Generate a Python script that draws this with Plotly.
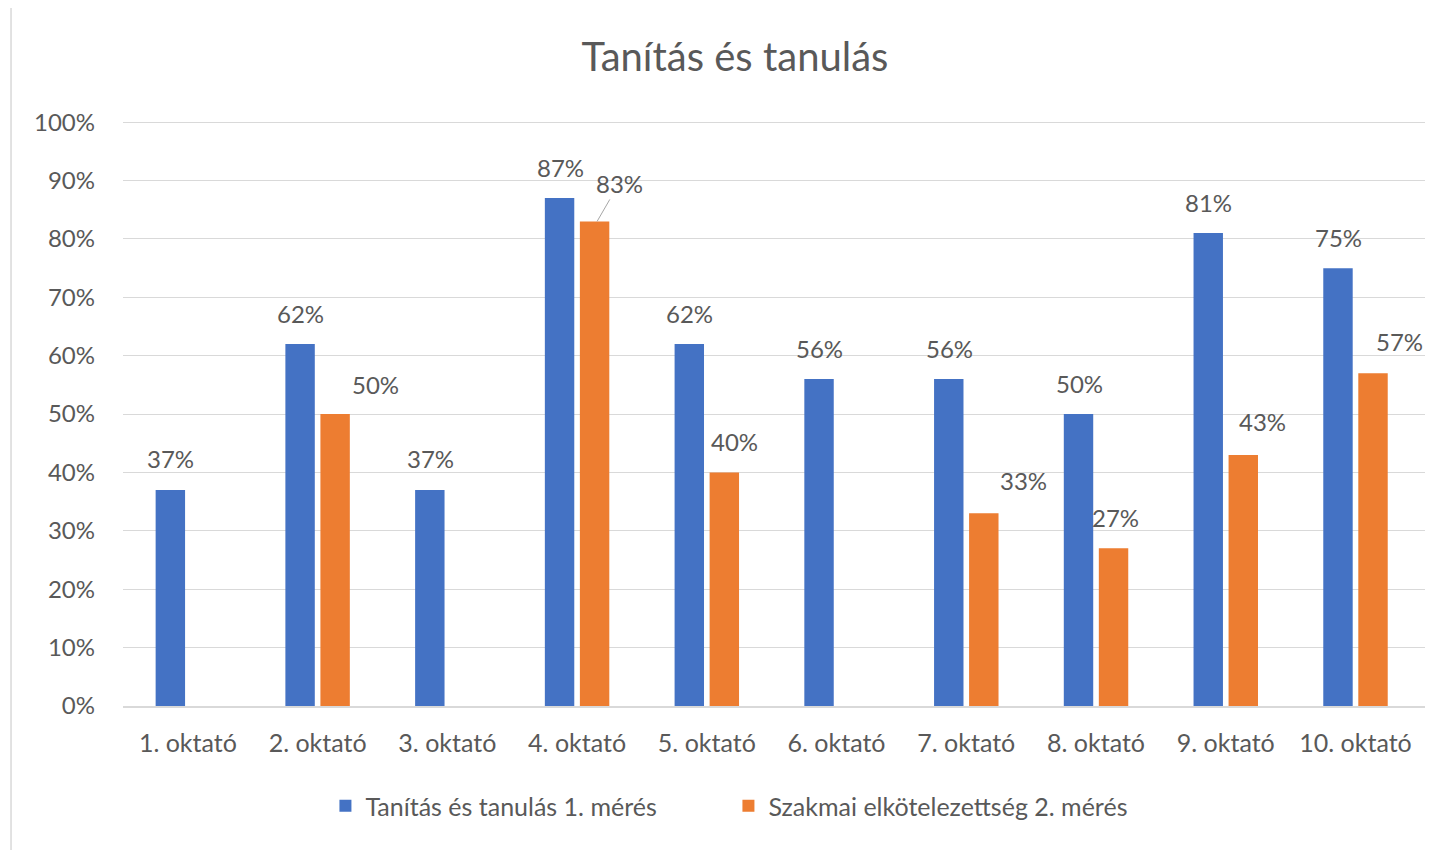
import plotly.graph_objects as go

categories = ["1. oktató", "2. oktató", "3. oktató", "4. oktató", "5. oktató",
              "6. oktató", "7. oktató", "8. oktató", "9. oktató", "10. oktató"]
series1_name = "Tanítás és tanulás 1. mérés"
series2_name = "Szakmai elkötelezettség 2. mérés"
series1 = [0.37, 0.62, 0.37, 0.87, 0.62, 0.56, 0.56, 0.50, 0.81, 0.75]
series2 = [None, 0.50, None, 0.83, 0.40, None, 0.33, 0.27, 0.43, 0.57]
title = "Tanítás és tanulás"

BLUE = "#4472C4"
ORANGE = "#ED7D31"
TXT = "#595959"
FONT = "Lato"

# label offsets (pixels) for the orange series labels, as placed in the reference
s2_label_dx = [0, 40, 0, 24, 10, 0, 39, 1, 19, 26]
s2_label_dy = [31, 30, 31, 37, 31, 31, 33, 31, 33, 32]

fig = go.Figure()
fig.add_trace(go.Bar(x=categories, y=series1, name=series1_name,
                     marker=dict(color=BLUE, line=dict(width=0))))
fig.add_trace(go.Bar(x=categories, y=series2, name=series2_name,
                     marker=dict(color=ORANGE, line=dict(width=0))))

LBL = dict(family=FONT, size=24, color=TXT)
ann = []
for c, v in zip(categories, series1):
    if v is None:
        continue
    ann.append(dict(x=c, y=v, xref="x", yref="y", text=f"{round(v*100)}%",
                    showarrow=False, xshift=-17, yshift=31, yanchor="middle", font=LBL))
for i, (c, v) in enumerate(zip(categories, series2)):
    if v is None:
        continue
    if c == "4. oktató":
        ann.append(dict(x=c, y=v, xref="x", yref="y", text=f"{round(v*100)}%",
                        showarrow=True, arrowhead=0, arrowwidth=1, arrowcolor="#A6A6A6",
                        ax=22, ay=-38, xshift=20, standoff=0, font=LBL))
    else:
        ann.append(dict(x=c, y=v, xref="x", yref="y", text=f"{round(v*100)}%",
                        showarrow=False, xshift=18 + s2_label_dx[i], yshift=s2_label_dy[i],
                        yanchor="middle", font=LBL))

fig.update_layout(
    width=1440, height=842,
    paper_bgcolor="white", plot_bgcolor="white",
    margin=dict(l=115, r=23, t=113, b=144),
    barmode="group", bargap=0.46, bargroupgap=0.16,
    title=dict(text=title, x=(735 - 8) / 1440, xref="container", xanchor="center",
               y=1 - 49 / 842, yref="container", yanchor="middle",
               font=dict(family=FONT, size=40, color=TXT)),
    font=dict(family=FONT, color=TXT),
    legend=dict(orientation="h", x=0.465, xanchor="center", y=-0.171, yanchor="middle",
                font=dict(family=FONT, size=25, color=TXT),
                traceorder="normal", entrywidthmode="pixels", entrywidth=358),
    annotations=ann,
    shapes=[dict(type="rect", xref="paper", yref="paper",
                 x0=-0.086, x1=1.2, y0=-0.4, y1=1.2017,
                 line=dict(color="#D9D9D9", width=1.5), fillcolor="rgba(0,0,0,0)",
                 layer="below")],
)
fig.update_yaxes(range=[0, 1.002], dtick=0.1, tickformat=".0%", showgrid=True,
                 gridcolor="#D9D9D9", gridwidth=1, zeroline=False, showline=False,
                 tickfont=dict(family=FONT, size=24, color=TXT), ticks="",
                 ticklabelstandoff=27, fixedrange=True)
fig.update_xaxes(showline=True, linecolor="#D9D9D9", linewidth=1.5, ticks="",
                 tickfont=dict(family=FONT, size=25, color=TXT), ticklabelstandoff=14)

fig.write_html("out.html")
